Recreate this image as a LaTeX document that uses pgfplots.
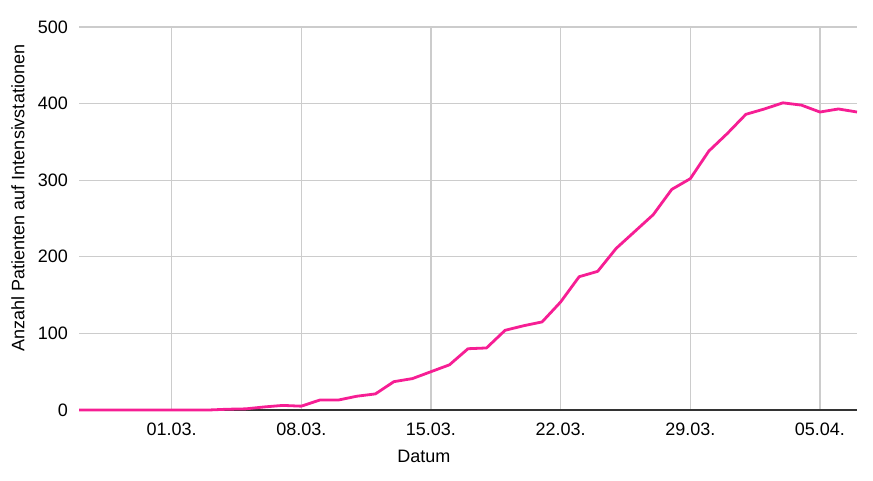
\documentclass[border=0pt]{standalone}
\usepackage{fontspec}
\setmainfont{Liberation Sans}
\usepackage{pgfplots}
\pgfplotsset{compat=1.18}
\definecolor{linepink}{RGB}{246,30,148}
\definecolor{gridgray}{RGB}{204,204,204}
\definecolor{axisdark}{RGB}{51,51,51}
\begin{document}
\fontsize{18}{21}\selectfont
\begin{tikzpicture}
\useasboundingbox (0,0) rectangle (873pt,480pt);
\begin{axis}[
  at={(79pt,70pt)}, anchor=south west,
  scale only axis, width=778pt, height=383pt,
  xmin=-5, xmax=37, ymin=0, ymax=500,
  axis x line*=bottom, axis y line*=left,
  y axis line style={draw=none},
  x axis line style={draw=axisdark, line width=1.4pt, -},
  major tick length=0pt,
  xtick={0,7,14,21,28,35},
  xticklabels={01.03.,08.03.,15.03.,22.03.,29.03.,05.04.},
  ytick={0,100,200,300,400,500},
  grid=major,
  major grid style={draw=gridgray, line width=1.2pt},
  /pgf/number format/assume math mode=true,
  tick label style={font=\fontsize{18}{21}\selectfont},
  xticklabel style={yshift=-7pt},
  yticklabel style={xshift=-5pt},
  xlabel={Datum},
  ylabel={Anzahl Patienten auf Intensivstationen},
  label style={font=\fontsize{18}{21}\selectfont},
  xlabel style={at={(axis description cs:0.4434,-0.120)}, anchor=center},
  ylabel style={at={(axis description cs:-0.0784,0.5535)}, anchor=center},
  clip=false,
]
\addplot[color=linepink, line width=2.8pt, line join=round, mark=none] coordinates {
(-5,0) (-4,0) (-3,0) (-2,0) (-1,0) (0,0) (1,0) (2,0) (3,1) (4,1.5)
(5,4) (6,6) (7,5) (8,13) (9,13) (10,18) (11,21) (12,37) (13,41) (14,50)
(15,59) (16,80) (17,81) (18,104) (19,110) (20,115) (21,141) (22,174) (23,181) (24,211)
(25,233) (26,255) (27,288) (28,302) (29,338) (30,361) (31,386) (32,393) (33,401) (34,398)
(35,389) (36,393) (37,389)
};
\end{axis}
\end{tikzpicture}
\end{document}
